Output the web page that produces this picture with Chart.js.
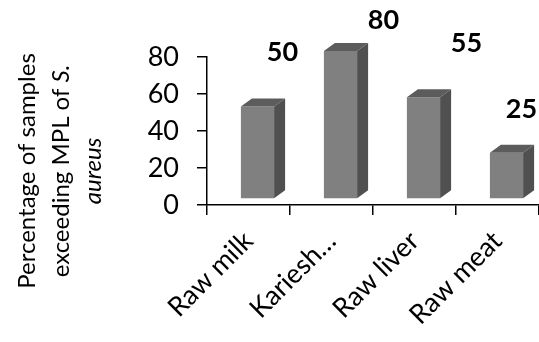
<!DOCTYPE html>
<html>
<head>
<meta charset="utf-8">
<script src="https://cdn.jsdelivr.net/npm/chart.js@4.4.1/dist/chart.umd.min.js"></script>
<style>
  html, body { margin: 0; padding: 0; background: #fff; }
  #wrap { width: 539px; height: 342px; }
</style>
</head>
<body>
<div id="wrap"><canvas id="chart1"></canvas></div>
<script>
const categories = ["Raw milk", "Kariesh\u2026", "Raw liver", "Raw meat"];
const percentages = [50, 80, 55, 25];
const yTicks = [0, 20, 40, 60, 80];

// Excel-like 3D box look
const frontColor = "#808080";
const sideColor = "#505050";
const topColor = "#5c5c5c";
const depthX = 11;
const depthY = 8;
const liftX = 9;
const liftY = 6;
// label nudges (px) to follow the skewed positions in the original
const labelNudge = [[34, -60], [52, -37], [52, -60], [24, -49]];

const fontFamily = "Lato, 'Open Sans', sans-serif";

const box3d = {
  id: "box3d",
  beforeDatasetsDraw(chart) {
    const ctx = chart.ctx;
    const meta = chart.getDatasetMeta(0);
    meta.data.forEach((bar, i) => {
      const w = bar.width;
      const x0 = bar.x - w / 2 + liftX;
      const x1 = bar.x + w / 2 + liftX;
      const yt = bar.y - liftY;
      const yb = bar.base - liftY;
      ctx.save();
      // front face
      ctx.fillStyle = frontColor;
      ctx.fillRect(x0, yt, x1 - x0, yb - yt);
      // side face
      ctx.fillStyle = sideColor;
      ctx.beginPath();
      ctx.moveTo(x1, yt);
      ctx.lineTo(x1 + depthX, yt - depthY);
      ctx.lineTo(x1 + depthX, yb - depthY);
      ctx.lineTo(x1, yb);
      ctx.closePath();
      ctx.fill();
      // top face
      ctx.fillStyle = topColor;
      ctx.beginPath();
      ctx.moveTo(x0, yt);
      ctx.lineTo(x0 + depthX, yt - depthY);
      ctx.lineTo(x1 + depthX, yt - depthY);
      ctx.lineTo(x1, yt);
      ctx.closePath();
      ctx.fill();
      ctx.restore();

      // value label
      ctx.save();
      ctx.font = "bold 27px " + fontFamily;
      ctx.fillStyle = "#000";
      ctx.textAlign = "center";
      ctx.textBaseline = "middle";
      const n = labelNudge[i];
      ctx.fillText(String(percentages[i]), bar.x + n[0], chart.scales.y.getPixelForValue(percentages[i]) + n[1]);
      ctx.restore();
    });
  },
};

const yTitle = {
  id: "yTitle",
  afterDraw(chart) {
    const ctx = chart.ctx;
    const cy = 171;
    const size = 24;
    const lines = [
      [["Percentage of samples", ""]],
      [["exceeding MPL of ", ""], ["S.", "italic "]],
      [["aureus", "italic "]],
    ];
    const xs = [27, 61, 93];
    ctx.save();
    ctx.fillStyle = "#000";
    ctx.textBaseline = "middle";
    lines.forEach((parts, li) => {
      let total = 0;
      parts.forEach((p) => {
        ctx.font = p[1] + size + "px " + fontFamily;
        total += ctx.measureText(p[0]).width;
      });
      ctx.save();
      ctx.translate(xs[li], cy);
      ctx.rotate(-Math.PI / 2);
      let x = -total / 2;
      parts.forEach((p) => {
        ctx.font = p[1] + size + "px " + fontFamily;
        ctx.textAlign = "left";
        ctx.fillText(p[0], x, 0);
        x += ctx.measureText(p[0]).width;
      });
      ctx.restore();
    });
    ctx.restore();
  },
};

const ctx = document.getElementById("chart1").getContext("2d");
new Chart(ctx, {
  type: "bar",
  data: {
    labels: categories,
    datasets: [
      {
        data: percentages,
        backgroundColor: "rgba(0,0,0,0)",
        borderWidth: 0,
        barPercentage: 0.5,
        categoryPercentage: 0.8,
      },
    ],
  },
  options: {
    responsive: true,
    maintainAspectRatio: false,
    animation: false,
    layout: { padding: { top: 57, right: 0, bottom: 0, left: 0 } },
    plugins: {
      legend: { display: false },
      tooltip: { enabled: false },
    },
    scales: {
      x: {
        offset: true,
        grid: {
          offset: true,
          drawOnChartArea: false,
          drawTicks: true,
          tickLength: 10,
          color: "#000",
          lineWidth: 1.5,
        },
        border: { display: true, color: "#000", width: 1.5 },
        ticks: {
          color: "#000",
          font: { family: fontFamily, size: 27 },
          minRotation: 45,
          maxRotation: 45,
          padding: 10,
        },
        afterFit(scale) {
          scale.height = 137;
          scale.paddingLeft = 0;
          scale.paddingRight = 0;
        },
      },
      y: {
        min: 0,
        max: 80,
        afterBuildTicks(scale) {
          scale.ticks = yTicks.map((v) => ({ value: v }));
        },
        grid: {
          drawOnChartArea: false,
          drawTicks: true,
          tickLength: 10,
          color: "#000",
          lineWidth: 1.5,
        },
        border: { display: true, color: "#000", width: 1.5 },
        ticks: {
          color: "#000",
          font: { family: fontFamily, size: 27 },
          padding: 18,
        },
        afterFit(scale) {
          scale.width = 207;
        },
      },
    },
  },
  plugins: [box3d, yTitle],
});
</script>
</body>
</html>
